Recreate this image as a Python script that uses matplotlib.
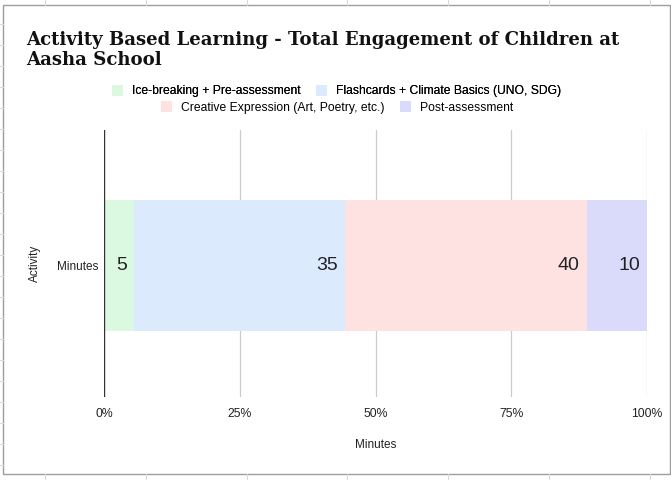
import matplotlib
matplotlib.use("Agg")
import matplotlib.pyplot as plt
from matplotlib.patches import Rectangle, Patch
from matplotlib.lines import Line2D

categories = ["Minutes"]
series_names = ["Ice-breaking + Pre-assessment", "Flashcards + Climate Basics (UNO, SDG)",
                "Creative Expression (Art, Poetry, etc.)", "Post-assessment"]
series_values = [5, 35, 40, 10]
colors = ["#daf9e0", "#dbeafd", "#fee1e1", "#dadafb"]
x_ticks = [0, 25, 50, 75, 100]
x_tick_labels = ["0%", "25%", "50%", "75%", "100%"]
title_lines = ["Activity Based Learning - Total Engagement of Children at", "Aasha School"]

W, H = 671, 480
fig = plt.figure(figsize=(W / 100, H / 100), dpi=100)
fig.patch.set_facecolor("white")

# spreadsheet background cell lines and chart border
for k in range(7):
    xv = 45 + k * 100.8
    fig.add_artist(Line2D([xv / W, xv / W], [1, 1 - 5 / H], color="#d9d9d9", lw=0.8))
    fig.add_artist(Line2D([xv / W, xv / W], [0, 6 / H], color="#d9d9d9", lw=0.8))
for k in range(-10, 13):
    yv = 213 + 21 * k
    if 5 < yv < 474:
        fig.add_artist(Line2D([0, 3 / W], [1 - yv / H, 1 - yv / H], color="#d9d9d9", lw=0.8))
fig.add_artist(Rectangle((3 / W, 1 - 474 / H), 666.5 / W, 469 / H, fill=False, edgecolor="#9e9e9e", lw=1.0))

ax = fig.add_axes([104 / W, 1 - 397 / H, 543 / W, 267 / H])
total = sum(series_values)
left = 0.0
for name, v, c in zip(series_names, series_values, colors):
    w = v / total * 100
    ax.barh(0, w, left=left, height=0.49, color=c, edgecolor="none", zorder=2)
    ax.text(left + w - 1.3, 0, str(v), ha="right", va="center", fontsize=14,
            family="Liberation Sans", color="#222222", zorder=3)
    left += w

ax.set_xlim(0, 100)
ax.set_ylim(-0.492, 0.508)
ax.set_xticks(x_ticks)
ax.set_xticklabels(x_tick_labels, family="Liberation Sans", fontsize=8.8, color="#222222")
ax.set_yticks([0])
ax.set_yticklabels(categories, family="Liberation Sans", fontsize=8.5, color="#222222")
ax.tick_params(length=0)
ax.tick_params(axis="x", pad=8)
ax.tick_params(axis="y", pad=4)
for xv in x_ticks[1:]:
    ax.axvline(xv, color="#cccccc", lw=0.9, zorder=1)
ax.axvline(0, color="#333333", lw=1.0, zorder=4)
for s in ax.spines.values():
    s.set_visible(False)
ax.set_xlabel("Minutes", family="Liberation Sans", fontsize=8.5, color="#222222", labelpad=13.5)
ax.set_ylabel("Activity", family="Liberation Sans", fontsize=8.5, color="#222222", labelpad=11.5)

for i, line in enumerate(title_lines):
    fig.text(26.5 / W, 1 - (45 + 20 * i) / H, line,
             family="DejaVu Serif", fontweight="bold", fontsize=13.1, ha="left", va="baseline",
             color="#111111")

handles = [Patch(facecolor=c, edgecolor="none") for c in colors]
common = dict(ncol=2, frameon=False, prop={"family": "Liberation Sans", "size": 8.7},
              handlelength=0.9, handleheight=1.0, handletextpad=0.75, columnspacing=1.3,
              borderpad=0, borderaxespad=0)
leg1 = fig.legend(handles[:2], series_names[:2], loc="center", bbox_to_anchor=(336.5 / W, 1 - 91 / H), **common)
leg2 = fig.legend(handles[2:], series_names[2:], loc="center", bbox_to_anchor=(337 / W, 1 - 107.5 / H), **common)
fig.add_artist(leg1)

fig.savefig("out.png", dpi=100)
